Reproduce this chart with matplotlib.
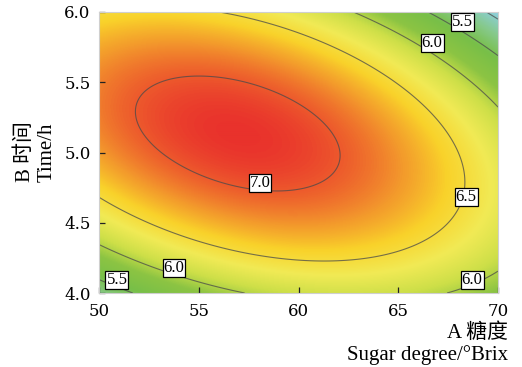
import numpy as np
import matplotlib
matplotlib.use("Agg")
import matplotlib.pyplot as plt
from matplotlib.colors import LinearSegmentedColormap, Normalize

# Response surface model in coded units: u = (A - 60) / 10, v = B - 5
# terms: const, u, v, uv, u^2, v^2
coef = [7.0809, -0.2717, 0.0762, -0.5405, -0.5661, -0.8909]

sugar_range = [50, 70]
time_range = [4.0, 6.0]
levels = [5.0, 5.5, 6.0, 6.5, 7.0]

x_ticks = [50, 55, 60, 65, 70]
y_ticks = [4.0, 4.5, 5.0, 5.5, 6.0]

# contour labels: (A, B, text)
label_pos = [
    (68.2, 5.93, "5.5"), (66.7, 5.78, "6.0"), (58.07, 4.78, "7.0"),
    (68.4, 4.68, "6.5"), (53.76, 4.18, "6.0"), (50.9, 4.09, "5.5"),
    (68.7, 4.09, "6.0"),
]

# colour stops (value, colour)
color_stops = [
    (4.89, "#8ccfe0"), (5.25, "#86c98a"), (5.55, "#78bf48"), (5.85, "#8cc443"),
    (6.1, "#cddf48"), (6.35, "#f1ea55"), (6.6, "#f9d22a"), (6.8, "#f39a2c"),
    (7.0, "#ed5a2c"), (7.13, "#e9322c"),
]

latin = "Liberation Serif"
fam = [latin, "Noto Sans CJK SC"]

vmin, vmax = color_stops[0][0], color_stops[-1][0]
cmap = LinearSegmentedColormap.from_list(
    "rsm", [((v - vmin) / (vmax - vmin), c) for v, c in color_stops])

A = np.linspace(sugar_range[0], sugar_range[1], 400)
B = np.linspace(time_range[0], time_range[1], 400)
AA, BB = np.meshgrid(A, B)
U = (AA - 60) / 10
V = BB - 5
Z = coef[0] + coef[1]*U + coef[2]*V + coef[3]*U*V + coef[4]*U**2 + coef[5]*V**2

fig = plt.figure(figsize=(5.22, 3.67), dpi=100)
ax = fig.add_axes([99/522, 1 - 293/367, 399/522, 281/367])

ax.imshow(Z, origin="lower", extent=[*sugar_range, *time_range], aspect="auto",
          cmap=cmap, norm=Normalize(vmin, vmax), interpolation="bilinear")
ax.contour(AA, BB, Z, levels, colors="#4a4a4a", linewidths=0.8, alpha=0.75)

# boxed contour labels
for a, b, t in label_pos:
    ax.text(a, b, t, ha="center", va="center", fontsize=12, family=latin,
            bbox=dict(boxstyle="square,pad=0.06", facecolor="white", edgecolor="black", linewidth=0.9))

ax.set_xlim(sugar_range)
ax.set_ylim(time_range)
ax.set_xticks(x_ticks)
ax.set_yticks(y_ticks)
ax.set_xticklabels([str(t) for t in x_ticks])
ax.set_yticklabels([f"{t:.1f}" for t in y_ticks])
ax.tick_params(direction="in", length=4, width=0.9, color="#222222", labelsize=12)
ax.tick_params(axis="x", pad=7)
ax.tick_params(axis="y", pad=6)
for lab in ax.get_xticklabels() + ax.get_yticklabels():
    lab.set_family("DejaVu Serif")
for s in ax.spines.values():
    s.set_color("#cfcfcf")
    s.set_linewidth(0.8)

fig.text(25/522, 1 - 152/367, "B 时间", rotation=90, ha="center", va="center", fontsize=15, family=fam)
fig.text(47/522, 1 - 152/367, "Time/h", rotation=90, ha="center", va="center", fontsize=15, family=fam)
fig.text(508/522, 1 - 333/367, "A 糖度", ha="right", va="center", fontsize=15, family=fam)
fig.text(508/522, 1 - 355/367, "Sugar degree/°Brix", ha="right", va="center", fontsize=15, family=fam)

fig.savefig("out.png")
